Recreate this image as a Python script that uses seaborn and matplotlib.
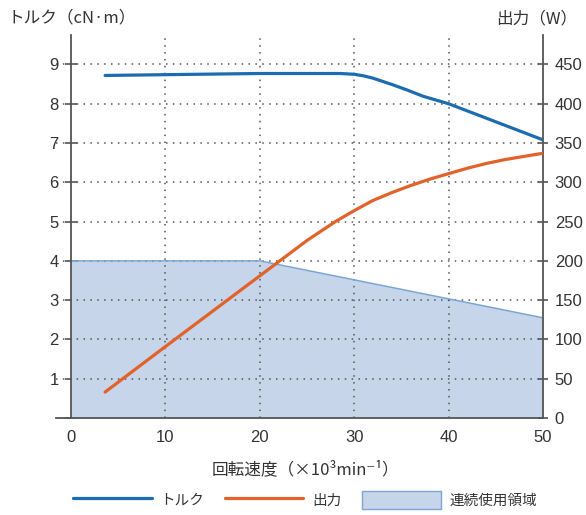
import pandas as pd
import seaborn as sns
import matplotlib.pyplot as plt
from matplotlib.patches import Patch
from matplotlib.lines import Line2D

# torque curve (cN·m) vs speed (x10^3 min^-1)
speed_t = [3.6, 10, 20, 28.5, 30, 31, 32, 34, 35.6, 37.3, 40, 42.5, 45, 47.5, 50]
torque = [8.72, 8.74, 8.77, 8.77, 8.75, 8.71, 8.65, 8.49, 8.35, 8.19, 8.0, 7.77, 7.54, 7.31, 7.08]

# output curve (W)
speed_p = [3.6, 10, 15, 20, 22, 25, 28, 30, 32, 34, 36, 38, 40, 42, 44, 46, 48, 50]
power = [33, 91, 136, 181, 199, 226, 250, 264, 277, 287, 296, 304, 311, 318, 324, 329, 333, 337]

# continuous operating region (cN·m)
region_x = [0, 20, 50]
region_y = [4.0, 4.0, 2.55]

x_ticks = [0, 10, 20, 30, 40, 50]
t_ticks = [0, 1, 2, 3, 4, 5, 6, 7, 8, 9]
p_ticks = [0, 50, 100, 150, 200, 250, 300, 350, 400, 450]

c_torque = '#1c6cb0'
c_power = '#e2622b'
c_fill = '#c6d5ea'
c_edge = '#7ba4d6'
c_axis = '#555555'

sns.set_style('white')
plt.rcParams['font.family'] = ['Liberation Sans', 'Noto Sans CJK JP', 'DejaVu Sans']
jp = ['Noto Sans CJK JP', 'DejaVu Sans']

fig = plt.figure(figsize=(5.86, 5.15), dpi=100)
ax = fig.add_axes([56 / 586, 97 / 515, 487 / 586, 383 / 515])
ax2 = ax.twinx()

df_t = pd.DataFrame({'speed': speed_t, 'torque': torque})
df_p = pd.DataFrame({'speed': speed_p, 'power': power})
df_r = pd.DataFrame({'speed': region_x, 'torque': region_y})

ax.fill_between(df_r['speed'], 0, df_r['torque'], color=c_fill, lw=0, zorder=1)
sns.lineplot(data=df_r, x='speed', y='torque', ax=ax, color=c_edge, lw=1.1, zorder=2)
sns.lineplot(data=df_t, x='speed', y='torque', ax=ax, color=c_torque, lw=2.3, zorder=3)
sns.lineplot(data=df_p, x='speed', y='power', ax=ax2, color=c_power, lw=2.3, zorder=3)

ax.set_xlim(-1.6, 50)
ax.set_ylim(0, 9.75)
ax2.set_ylim(0, 487.5)

ax.set_xticks(x_ticks)
ax.set_yticks(t_ticks)
ax.set_yticklabels([''] + [str(v) for v in t_ticks[1:]])
ax2.set_yticks(p_ticks)

# dotted grid at inner ticks only
for v in x_ticks[1:-1]:
    ax.axvline(v, color=c_axis, lw=1.1, ls=(0, (1, 3.5)), zorder=1.5)
for v in t_ticks[1:]:
    ax.axhline(v, color=c_axis, lw=1.1, ls=(0, (1, 3.5)), zorder=1.5)

for s in ['top', 'right']:
    ax.spines[s].set_visible(False)
for s in ['top', 'left', 'bottom']:
    ax2.spines[s].set_visible(False)
ax.spines['left'].set_position(('data', 0))
for sp in [ax.spines['left'], ax.spines['bottom'], ax2.spines['right']]:
    sp.set_color(c_axis)
    sp.set_linewidth(1.3)

ax.tick_params(axis='x', direction='inout', length=9, width=1.2, color=c_axis,
               labelsize=12, pad=4, labelcolor='#333333')
ax.tick_params(axis='y', direction='inout', length=8, width=1.2, color=c_axis,
               labelsize=12, pad=5, labelcolor='#333333')
ax2.tick_params(axis='y', direction='inout', length=7, width=1.2, color=c_axis,
                labelsize=12, pad=5, labelcolor='#333333')

ax.set_xlabel('')
ax.set_ylabel('')
ax2.set_ylabel('')

fig.text(8 / 586, 1 - 18 / 515, 'トルク（cN·m）', family=jp, fontsize=12,
         color='#333333', ha='left', va='center')
fig.text(577 / 586, 1 - 19 / 515, '出力（W）', family=jp, fontsize=12,
         color='#333333', ha='right', va='center')
fig.text(305 / 586, 1 - 470 / 515, '回転速度（×10³min⁻¹）', family=jp, fontsize=12,
         color='#333333', ha='center', va='center')

handles = [Line2D([], [], color=c_torque, lw=2.3),
           Line2D([], [], color=c_power, lw=2.3),
           Patch(facecolor=c_fill, edgecolor=c_edge, lw=1)]
labels = ['トルク', '出力', '連続使用領域']
fig.legend(handles, labels, loc='center', bbox_to_anchor=(305 / 586, 15 / 515), ncol=3,
           frameon=False, prop={'family': jp, 'size': 10.5}, handlelength=5.4,
           handleheight=1.55, handletextpad=0.6, columnspacing=1.4, labelcolor='#333333')

fig.savefig('out.png', dpi=100)
